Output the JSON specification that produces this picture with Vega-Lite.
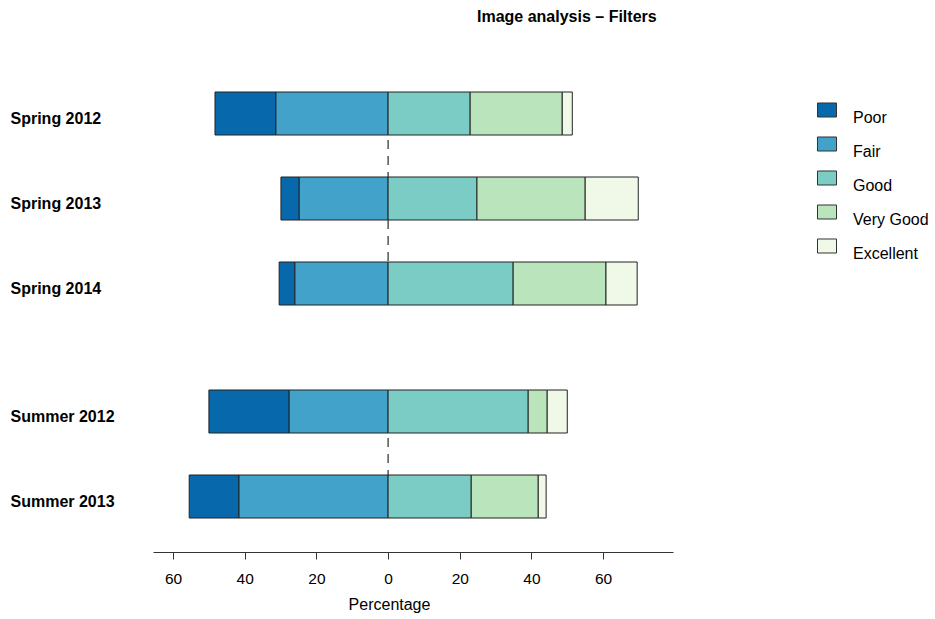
{
  "$schema": "https://vega.github.io/schema/vega-lite/v6.json",
  "autosize": {"type": "pad"},
  "padding": {"left": 10, "top": 8, "right": 2, "bottom": 5},
  "config": {"font": "Liberation Sans", "view": {"stroke": null}},
  "title": {"text": "Image analysis – Filters", "anchor": "start", "frame": "group", "dx": 324, "offset": 67, "fontSize": 16, "fontWeight": "bold", "font": "Liberation Sans", "color": "#000"},
  "data": {"values": [
    {"Term": "Spring 2012", "Season": "Spring", "Rating": "Poor", "Value": -17.0},
    {"Term": "Spring 2012", "Season": "Spring", "Rating": "Fair", "Value": -31.3},
    {"Term": "Spring 2012", "Season": "Spring", "Rating": "Good", "Value": 22.9},
    {"Term": "Spring 2012", "Season": "Spring", "Rating": "Very Good", "Value": 25.7},
    {"Term": "Spring 2012", "Season": "Spring", "Rating": "Excellent", "Value": 2.8},
    {"Term": "Spring 2013", "Season": "Spring", "Rating": "Poor", "Value": -5.1},
    {"Term": "Spring 2013", "Season": "Spring", "Rating": "Fair", "Value": -24.8},
    {"Term": "Spring 2013", "Season": "Spring", "Rating": "Good", "Value": 24.8},
    {"Term": "Spring 2013", "Season": "Spring", "Rating": "Very Good", "Value": 30.2},
    {"Term": "Spring 2013", "Season": "Spring", "Rating": "Excellent", "Value": 14.8},
    {"Term": "Spring 2014", "Season": "Spring", "Rating": "Poor", "Value": -4.4},
    {"Term": "Spring 2014", "Season": "Spring", "Rating": "Fair", "Value": -26.0},
    {"Term": "Spring 2014", "Season": "Spring", "Rating": "Good", "Value": 34.9},
    {"Term": "Spring 2014", "Season": "Spring", "Rating": "Very Good", "Value": 25.9},
    {"Term": "Spring 2014", "Season": "Spring", "Rating": "Excellent", "Value": 8.7},
    {"Term": "Summer 2012", "Season": "Summer", "Rating": "Poor", "Value": -22.4},
    {"Term": "Summer 2012", "Season": "Summer", "Rating": "Fair", "Value": -27.6},
    {"Term": "Summer 2012", "Season": "Summer", "Rating": "Good", "Value": 39.1},
    {"Term": "Summer 2012", "Season": "Summer", "Rating": "Very Good", "Value": 5.3},
    {"Term": "Summer 2012", "Season": "Summer", "Rating": "Excellent", "Value": 5.6},
    {"Term": "Summer 2013", "Season": "Summer", "Rating": "Poor", "Value": -13.9},
    {"Term": "Summer 2013", "Season": "Summer", "Rating": "Fair", "Value": -41.6},
    {"Term": "Summer 2013", "Season": "Summer", "Rating": "Good", "Value": 23.2},
    {"Term": "Summer 2013", "Season": "Summer", "Rating": "Very Good", "Value": 18.7},
    {"Term": "Summer 2013", "Season": "Summer", "Rating": "Excellent", "Value": 2.2}
  ]},
  "transform": [
    {"calculate": "indexof(['Fair','Poor','Good','Very Good','Excellent'], datum.Rating)", "as": "ord"}
  ],
  "facet": {"row": {"field": "Season", "type": "nominal", "header": null, "sort": ["Spring", "Summer"]}},
  "spacing": {"row": 83},
  "resolve": {"scale": {"y": "independent"}},
  "spec": {
    "width": 520,
    "height": {"step": 85},
    "layer": [
      {
        "transform": [{"filter": "datum.Rating == 'Good' && (datum.Term == 'Spring 2012' || datum.Term == 'Summer 2012')"}],
        "mark": {"type": "rule", "strokeDash": [9, 7], "color": "#000", "strokeWidth": 1},
        "encoding": {"x": {"datum": 0, "type": "quantitative"}}
      },
      {
        "mark": {"type": "bar", "stroke": "#222", "strokeWidth": 1},
        "encoding": {
          "y": {"field": "Term", "type": "nominal", "sort": null,
                "scale": {"paddingInner": 0.494, "paddingOuter": 0},
                "axis": {"title": null, "domain": false, "ticks": false, "labelAlign": "left", "labelPadding": 143,
                         "labelFontSize": 16, "labelFontWeight": "bold", "labelColor": "#000", "labelOffset": 5, "labelFont": "Liberation Sans"}},
          "x": {"field": "Value", "type": "quantitative", "stack": "zero",
                "scale": {"domain": [-65.6, 79.5], "nice": false, "zero": false},
                "axis": {"title": "Percentage", "values": [-60, -40, -20, 0, 20, 40, 60], "labelExpr": "abs(datum.value)",
                         "grid": false, "offset": 33, "domainColor": "#333", "tickColor": "#333", "tickSize": 7,
                         "labelFontSize": 15.5, "labelColor": "#000", "labelPadding": 12,
                         "titleFontSize": 16, "titleFontWeight": "normal", "titleColor": "#000", "titlePadding": 10,
                         "titleX": 236, "titleAlign": "center"}},
          "color": {"field": "Rating", "type": "nominal",
                    "scale": {"domain": ["Poor", "Fair", "Good", "Very Good", "Excellent"],
                              "range": ["#0868ac", "#43a2ca", "#7bccc4", "#bae4bc", "#f0f9e8"]},
                    "legend": {"title": null, "orient": "none", "legendX": 664, "legendY": 8, "padding": 0,
                               "symbolType": "M-1,-0.737H1V0.737H-1Z", "symbolSize": 361, "symbolStrokeColor": "#333",
                               "symbolStrokeWidth": 1, "symbolOpacity": 1, "labelFontSize": 16, "labelColor": "#000",
                               "labelBaseline": "top", "labelOffset": 16, "rowPadding": 8}},
          "order": {"field": "ord", "type": "quantitative"}
        }
      }
    ]
  }
}
